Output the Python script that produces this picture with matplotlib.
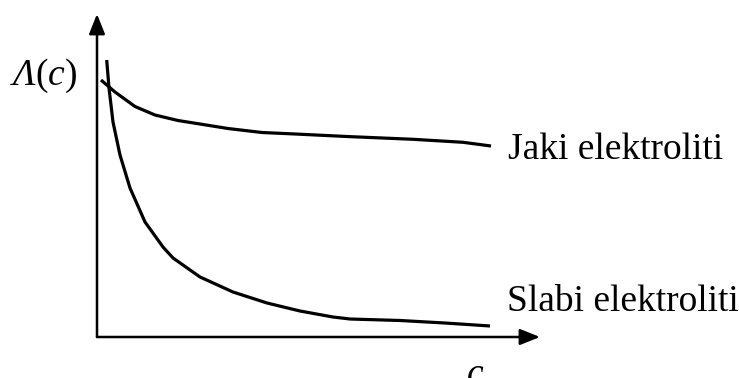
import numpy as np
import matplotlib
matplotlib.use("Agg")
import matplotlib.pyplot as plt

plt.rcParams['font.family'] = ['Liberation Serif', 'DejaVu Serif']

# qualitative curves (arbitrary units)
c_jaki = [0.090, 0.406, 0.858, 1.309, 1.828, 2.325, 2.957, 3.725, 4.470,
          5.643, 7.133, 8.262, 8.894]
lam_jaki = [7.957, 7.585, 7.136, 6.873, 6.703, 6.594, 6.455, 6.331, 6.285,
            6.207, 6.121, 6.028, 5.913]

c_slabi = [0.219, 0.271, 0.361, 0.519, 0.745, 1.084, 1.490, 1.716, 2.325,
           3.070, 3.837, 4.582, 5.327, 5.711, 6.840, 7.856, 8.871]
lam_slabi = [8.576, 7.709, 6.656, 5.635, 4.613, 3.560, 2.786, 2.446, 1.858,
             1.393, 1.053, 0.805, 0.619, 0.557, 0.511, 0.433, 0.341]

labels = ["Jaki elektroliti", "Slabi elektroliti"]

fig = plt.figure(figsize=(7.39, 3.78), dpi=100)
ax = fig.add_axes([97 / 739, 41 / 378, 443 / 739, 323 / 378])
ax.set_xlim(0, 10)
ax.set_ylim(0, 10)
for s in ax.spines.values():
    s.set_visible(False)
ax.set_xticks([])
ax.set_yticks([])

arrow = dict(arrowstyle='-|>,head_length=0.55,head_width=0.22', color='black',
             lw=1.8, shrinkA=0, shrinkB=0, mutation_scale=22)
ax.annotate('', xy=(0, 10), xytext=(0, 0), arrowprops=arrow, annotation_clip=False)
ax.annotate('', xy=(10, 0), xytext=(0, 0), arrowprops=arrow, annotation_clip=False)

for xs, ys in [(c_jaki, lam_jaki), (c_slabi, lam_slabi)]:
    ax.plot(xs, ys, color='black', lw=2.3, solid_capstyle='butt',
            solid_joinstyle='round', clip_on=False)

fs = 27
ax.text(9.28, 5.50, labels[0], fontsize=fs, va='baseline', ha='left', clip_on=False)
ax.text(9.26, 0.80, labels[1], fontsize=fs, va='baseline', ha='left', clip_on=False)

# y label: italic Lambda and c, upright parentheses, chained piece by piece
prev = ax.text(-1.90, 7.80, 'Λ', fontsize=fs, style='italic', va='baseline',
               ha='left', clip_on=False)
for piece, st in [('(', 'normal'), ('c', 'italic'), (')', 'normal')]:
    prev = ax.annotate(piece, xy=(1, 0), xycoords=prev, fontsize=fs, style=st,
                       va='bottom', ha='left', annotation_clip=False)

ax.text(8.53, -1.46, 'c', fontsize=fs, style='italic', va='baseline',
        ha='center', clip_on=False)

fig.savefig('out.png', dpi=100)
